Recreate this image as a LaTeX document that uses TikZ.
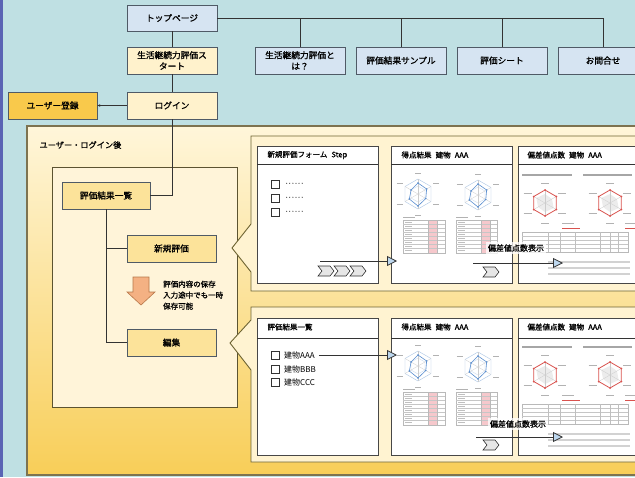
\documentclass[tikz,border=0pt]{standalone}
\usepackage{fontspec}
\newfontfamily\cjk[AutoFakeBold=1.2]{Noto Sans CJK JP}
\usetikzlibrary{arrows.meta,calc}
\definecolor{bg}{HTML}{BFE0E3}
\definecolor{strip}{HTML}{5A64B4}
\definecolor{bluebox}{HTML}{D6E4F2}
\definecolor{boxb}{HTML}{4F5A66}
\definecolor{lighty}{HTML}{FFF2CC}
\definecolor{goldy}{HTML}{F9C94B}
\definecolor{midy}{HTML}{FCE39A}
\definecolor{bigtop}{HTML}{FFF6DA}
\definecolor{bigmid}{HTML}{FDE7A6}
\definecolor{bigbot}{HTML}{F8CE58}
\definecolor{bigb}{HTML}{7D7350}
\definecolor{innerf}{HTML}{FFF4D9}
\definecolor{innerb}{HTML}{5C5330}
\definecolor{callf}{HTML}{FFF3D1}
\definecolor{callb}{HTML}{6E6432}
\definecolor{salmon}{HTML}{F4B183}
\definecolor{salmonb}{HTML}{B8784A}
\definecolor{triblue}{HTML}{BDD7EE}
\definecolor{chev}{HTML}{E6E6E6}
\definecolor{radblue}{HTML}{5B8FD0}
\definecolor{radgrid}{HTML}{A9C4E4}
\definecolor{radred}{HTML}{D9534F}
\definecolor{pinkc}{HTML}{F6C8CC}
\definecolor{ln}{HTML}{333333}

\newcommand\myradar[3]{%
\begin{scope}[shift={(#1,#2)}]
  \draw[radgrid, line width=0.4] (90:15)--(30:15)--(-30:15)--(-90:15)--(-150:15)--(150:15)--cycle;
  \draw[radgrid!70, line width=0.3] (90:8)--(30:8)--(-30:8)--(-90:8)--(-150:8)--(150:8)--cycle;
  \foreach \a in {90,30,-30,-90,-150,150} \draw[gray!40, line width=0.3] (0,0) -- (\a:15);
  \draw[#3, line width=0.6] (90:12)--(30:9)--(-30:10)--(-90:11)--(-150:8)--(150:10)--cycle;
  \foreach \a/\r in {90/12,30/9,-30/10,-90/11,-150/8,150/10} \fill[#3] (\a:\r) circle (0.9);
  \foreach \a in {90,30,-30,-90,-150,150} \draw[gray!60, line width=0.8] ($(\a:21)+(-3,0)$) -- ++(6,0);
\end{scope}}

\newcommand\myredradar[2]{%
\begin{scope}[shift={(#1,#2)}]
  \fill[gray!15] (90:9)--(30:10)--(-30:8)--(-90:9)--(-150:10)--(150:8)--cycle;
  \foreach \a in {90,30,-30,-90,-150,150} \draw[gray!40, line width=0.3] (0,0) -- (\a:13);
  \draw[radred, line width=0.8] (90:13)--(30:13)--(-30:13)--(-90:13)--(-150:13)--(150:13)--cycle;
  \foreach \a in {90,30,-30,-90,-150,150} \fill[radred] (\a:13) circle (1);
  \foreach \a in {90,30,-30,-90,-150,150} \draw[gray!60, line width=0.8] ($(\a:20)+(-4,0)$) -- ++(8,0);
\end{scope}}

\newcommand\mytable[3]{%
\begin{scope}[shift={(#1,#2)}]
  \draw[gray!60, line width=0.8] (0,-3) -- (12,-3);
  \fill[pinkc] (25,0) rectangle (34,33);
  \draw[gray!55, line width=0.3] (0,0) rectangle (#3,33);
  \foreach \yy in {4,8,12,16,20,24,28} \draw[gray!45, line width=0.3] (0,\yy) -- (#3,\yy);
  \draw[gray!55, line width=0.3] (25,0) -- (25,33) (34,0) -- (34,33);
  \foreach \yy in {2,6,10,14,18,22,26,30} \draw[gray!50, line width=0.6] (2,\yy) -- (9,\yy);
\end{scope}}

\newcommand\panelbc{%
  \myradar{418}{194}{radblue}
  \myradar{478}{195}{radblue}
  \mytable{403}{220}{42}
  \mytable{456}{220}{41}
  % panel C
  \draw[gray!70, line width=1.1] (522,175) -- (572,175) (583,175) -- (632,175);
  \myredradar{545}{203}
  \myredradar{610}{203}
  \draw[gray!60, line width=0.8] (562,223) -- (574,223) (625,223) -- (635,223);
  \draw[radred, line width=0.8] (562,228) -- (580,228) (625,228) -- (640,228);
  \draw[gray!55, line width=0.3] (522,232) rectangle (628,252);
  \foreach \yy in {236,240,244,248} \draw[gray!45, line width=0.3] (522,\yy) -- (628,\yy);
  \foreach \xx in {548,560,575,600,610,618} \draw[gray!50, line width=0.3] (\xx,232) -- (\xx,252);
  \foreach \yy in {262,268,274} \draw[gray!35, line width=1.4] (548,\yy) -- (630,\yy);
}

\newcommand\mychev[2]{%
  \filldraw[fill=chev, draw=ln, line width=0.6] (#1,#2-5) -- (#1+12,#2-5) -- (#1+16,#2) -- (#1+12,#2+5) -- (#1,#2+5) -- (#1+4,#2) -- cycle;}

\newcommand\tsp{\hspace{0.55em}}

\begin{document}
\begin{tikzpicture}[x=1pt,y=-1pt,
  font=\cjk\fontsize{8}{10}\selectfont,
  bbox/.style={draw=boxb, fill=bluebox, minimum width=90pt, minimum height=27pt, inner sep=1pt, align=center, line width=0.7pt, font=\cjk\bfseries\fontsize{8.7}{11}\selectfont},
  ybox/.style={bbox, fill=lighty},
  gbox/.style={bbox, fill=midy},
  conn/.style={draw=ln, line width=0.8pt},
  tri/.style={draw=ln, line width=0.8pt, -{Triangle[length=10pt,width=10pt,fill=triblue]}},
  panel/.style={draw=ln!90, fill=white, line width=0.8pt},
  ptitle/.style={anchor=west, font=\cjk\bfseries\fontsize{7.5}{9}\selectfont},
  item/.style={anchor=west, font=\cjk\fontsize{8}{9}\selectfont, inner sep=1pt},
  cbox/.style={draw=ln, fill=white, line width=0.6pt, minimum size=8pt, inner sep=0pt},
  callout/.style={draw=callb, fill=callf, line width=0.9pt},
  lab/.style={fill=white, fill opacity=0.75, text opacity=1, inner sep=2pt, font=\cjk\bfseries\fontsize{8}{9}\selectfont}
]
\clip (0,0) rectangle (635,477);
\fill[bg] (0,0) rectangle (635,477);
\fill[strip] (0,0) rectangle (2.5,477);

% big box
\shade[top color=bigtop, middle color=bigmid, bottom color=bigbot] (27,126) rectangle (645,475);
\draw[bigb, line width=1.2pt] (27,126) rectangle (645,475);
\node[anchor=west, font=\cjk\bfseries\fontsize{8.2}{10}\selectfont] (after) at (36,145) {ユーザー・ログイン後};

% inner box
\draw[fill=innerf, draw=innerb, line width=0.9pt] (52,167) rectangle (237,407);

% top nodes
\node[bbox, minimum height=26pt] (top) at (172,18) {トップページ};
\node[ybox] (start) at (172,60.5) {生活継続力評価ス\\タート};
\node[ybox] (login) at (172,105.5) {ログイン};
\node[bbox, fill=goldy, minimum width=89pt] (reg) at (52.5,105.5) {ユーザー登録};
\node[bbox] (about) at (300,60.5) {生活継続力評価と\\は？};
\node[bbox] (sample) at (401,60.5) {評価結果サンプル};
\node[bbox] (sheet) at (502,60.5) {評価シート};
\node[bbox] (contact) at (603,60.5) {お問合せ};

\draw[conn] (top) -- (start);
\draw[conn] (start) -- (login);
\draw[conn, -{Stealth[length=3pt,width=2.5pt]}] (login) -- (reg);
\draw[conn] (top.east) -| (about.north);
\draw[conn] (top.east) -| (sample.north);
\draw[conn] (top.east) -| (sheet.north);
\draw[conn] (top.east) -| (contact.north);

% inner flow
\node[gbox, minimum width=88pt] (list) at (106,195.5) {評価結果一覧};
\node[gbox, minimum width=89pt] (new) at (171.5,248.5) {新規評価};
\node[gbox, minimum width=89pt] (edit) at (171.5,342.5) {編集};
\draw[conn] (login.south) |- (list.east);
\draw[conn] (list.south) |- (new.west);
\draw[conn] (list.south) |- (edit.west);

\filldraw[fill=salmon, draw=salmonb, line width=0.6pt] (133,277) -- (149,277) -- (149,292) -- (155,292) -- (141,305) -- (127,292) -- (133,292) -- cycle;
\node[anchor=north west, align=left, inner sep=0pt, font=\cjk\bfseries\fontsize{7.5}{11}\selectfont] (note) at (163,280.5) {評価内容の保存\\入力途中でも一時\\保存可能};

% callouts
\draw[callout] (251,136) -- (645,136) -- (645,291) -- (251,291) -- (251,272) -- (232,248) -- (251,224) -- cycle;
\draw[callout] (251,307) -- (645,307) -- (645,462) -- (251,462) -- (251,370) -- (230,343) -- (251,320) -- cycle;

% panels top
\draw[panel] (257,146) rectangle (378,283);
\draw[ln, line width=0.8pt] (257,164) -- (378,164);
\draw[panel] (391,146) rectangle (512,283);
\draw[ln, line width=0.8pt] (391,164) -- (512,164);
\draw[panel] (518,146) rectangle (645,283);
\draw[ln, line width=0.8pt] (518,164) -- (645,164);
\node[ptitle] (ta) at (264,155) {新規評価フォーム\tsp Step};
\node[ptitle] (tb) at (398,155) {得点結果\tsp 建物\tsp AAA};
\node[ptitle] (tc) at (524,155) {偏差値点数\tsp 建物\tsp AAA};

\foreach \yy/\nm in {184/c1,198/c2,212/c3} {
  \node[cbox] (\nm) at (275,\yy) {};
  \node[item, font=\cjk\bfseries\fontsize{5.5}{6}\selectfont] at (284,\yy) {······};
}
\mychev{318}{271}\mychev{334}{271}\mychev{350}{271}
\mychev{483}{272}

% panels bottom
\draw[panel] (257,318) rectangle (378,455);
\draw[ln, line width=0.8pt] (257,338) -- (378,338);
\draw[panel] (391,318) rectangle (512,455);
\draw[ln, line width=0.8pt] (391,338) -- (512,338);
\draw[panel] (518,318) rectangle (645,455);
\draw[ln, line width=0.8pt] (518,338) -- (645,338);
\node[ptitle] (td) at (264,327) {評価結果一覧};
\node[ptitle] (te) at (398,327) {得点結果\tsp 建物\tsp AAA};
\node[ptitle] (tf) at (524,327) {偏差値点数\tsp 建物\tsp AAA};
\node[cbox] (d1) at (275,355) {};
\node[cbox] (d2) at (275,369) {};
\node[cbox] (d3) at (275,382) {};
\node[item] (aaa) at (283,355) {建物AAA};
\node[item] (bbb) at (283,369) {建物BBB};
\node[item] (ccc) at (283,382) {建物CCC};
\mychev{483}{445}

% screenshot contents
\panelbc
\begin{scope}[shift={(0,172)}]
\panelbc
\end{scope}

% arrows and labels
\coordinate (a1s) at (320,261);
\coordinate (a1e) at (397,261);
\draw[tri] (a1s) -- (a1e);
\node[lab] (lab1) at (516,248) {偏差値点数表示};
\coordinate (a2s) at (473,263);
\coordinate (a2e) at (563,263);
\draw[tri] (a2s) -- (a2e);

\coordinate (d1e) at (397,355);
\draw[tri] ([xshift=3pt]aaa.east) -- (d1e);
\node[lab] (lab2) at (518,424) {偏差値点数表示};
\coordinate (a3s) at (476,437);
\coordinate (a3e) at (563,437);
\draw[tri] (a3s) -- (a3e);
\end{tikzpicture}
\end{document}
